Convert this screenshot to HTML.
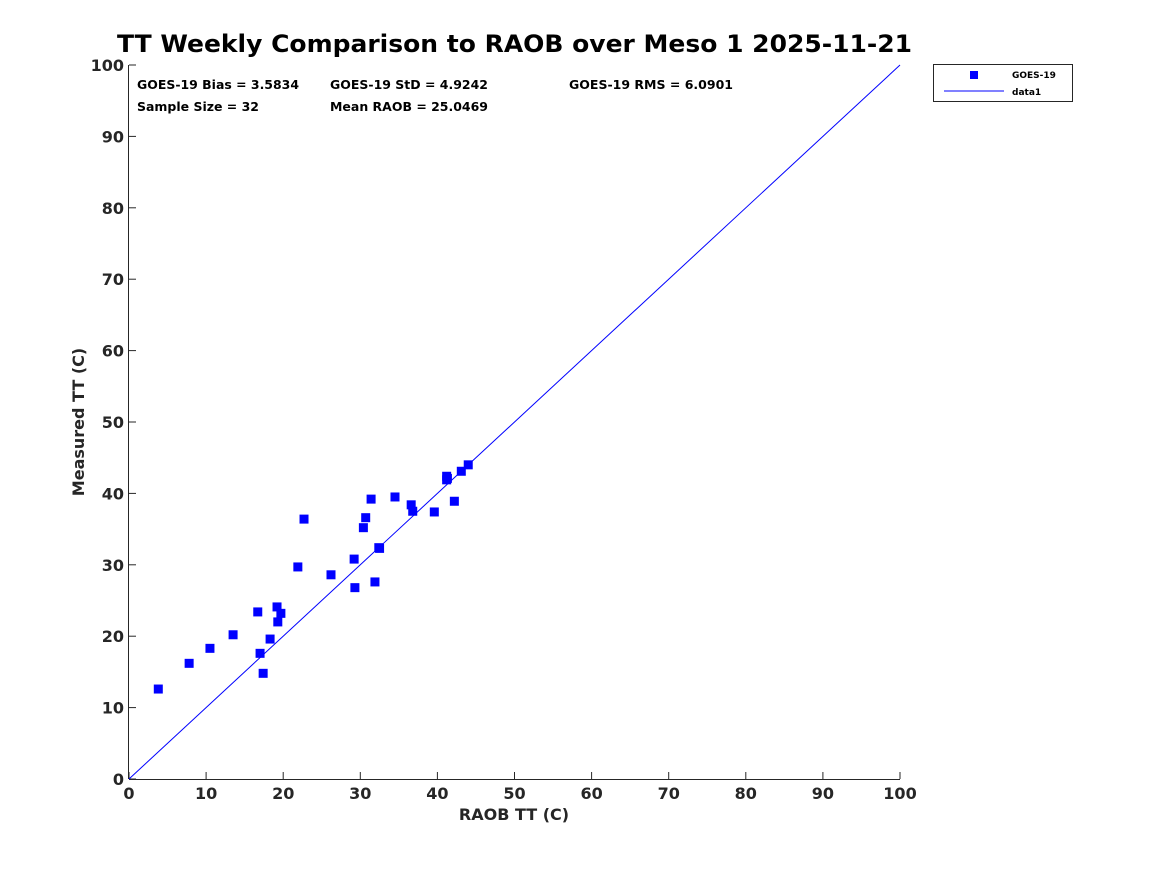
<!DOCTYPE html>
<html><head><meta charset="utf-8"><style>
body{margin:0;background:#fff;}
svg text{font-family:"DejaVu Sans","Liberation Sans",sans-serif;font-weight:bold;fill:#262626;}
</style></head><body>
<svg id="chart" width="1167" height="875" xmlns="http://www.w3.org/2000/svg">
<rect width="1167" height="875" fill="#fff"/>
<text x="117" y="52" textLength="795" lengthAdjust="spacingAndGlyphs" font-size="24" style="fill:#000">TT Weekly Comparison to RAOB over Meso 1 2025-11-21</text>
<g id="axes"></g>
<g id="marks"></g>
<g font-size="12">
<text x="137" y="89" textLength="162" lengthAdjust="spacingAndGlyphs" style="fill:#000">GOES-19 Bias = 3.5834</text>
<text x="330" y="89" textLength="158" lengthAdjust="spacingAndGlyphs" style="fill:#000">GOES-19 StD = 4.9242</text>
<text x="569" y="89" textLength="164" lengthAdjust="spacingAndGlyphs" style="fill:#000">GOES-19 RMS = 6.0901</text>
<text x="137" y="111" textLength="122" lengthAdjust="spacingAndGlyphs" style="fill:#000">Sample Size = 32</text>
<text x="330" y="111" textLength="158" lengthAdjust="spacingAndGlyphs" style="fill:#000">Mean RAOB = 25.0469</text>
</g>
<g>
<rect x="933.5" y="64.5" width="139" height="37" fill="#fff" stroke="#262626" stroke-width="1"/>
<rect x="970" y="71" width="8" height="8" fill="#0000ff"/>
<text x="1012" y="78" font-size="9" style="fill:#000">GOES-19</text>
<line x1="944" y1="91" x2="1004" y2="91" stroke="#0000ff" stroke-width="1"/>
<text x="1012" y="95" font-size="9" style="fill:#000">data1</text>
</g>
<text x="514" y="820" text-anchor="middle" font-size="16">RAOB TT (C)</text>
<text transform="translate(84,422) rotate(-90)" text-anchor="middle" font-size="16">Measured TT (C)</text>
</svg>
<script>
const raobValues=[3.8,7.8,10.5,13.5,16.7,17.0,17.4,18.3,19.2,19.3,19.7,21.9,22.7,26.2,29.2,29.3,30.4,30.7,31.4,31.9,32.4,32.5,34.5,36.6,36.8,39.6,41.2,41.2,41.3,42.2,43.1,44.0];
const measuredValues=[12.6,16.2,18.3,20.2,23.4,17.6,14.8,19.6,24.1,22.0,23.2,29.7,36.4,28.6,30.8,26.8,35.2,36.6,39.2,27.6,32.4,32.3,39.5,38.4,37.5,37.4,42.4,41.9,42.1,38.9,43.1,44.0];
const xTicks=[0,10,20,30,40,50,60,70,80,90,100];
const yTicks=[0,10,20,30,40,50,60,70,80,90,100];
const NS="http://www.w3.org/2000/svg";
const L=129,R=900,T=65,B=779;
const xs=v=>L+(v-0)/(100-0)*(R-L);
const ys=v=>B-(v-0)/(100-0)*(B-T);
function mk(tag,attrs,parent){const e=document.createElementNS(NS,tag);for(const k in attrs)e.setAttribute(k,attrs[k]);parent.appendChild(e);return e;}
const ax=document.getElementById('axes');
const xa=mk('line',{x1:L,y1:B+0.5,x2:R,y2:B+0.5,stroke:'#262626'},ax);


const ya=mk('line',{x1:L-0.5,y1:T,x2:L-0.5,y2:B,stroke:'#262626'},ax);


xTicks.forEach(t=>{
 const x=xs(t);
 mk('line',{x1:x,y1:B,x2:x,y2:B-7,stroke:'#262626'},ax);
 const tx=mk('text',{x:x,y:B+20,'text-anchor':'middle','font-size':16},ax);
 tx.textContent=t;
 
 
});
yTicks.forEach(t=>{
 const y=ys(t);
 mk('line',{x1:L,y1:y,x2:L+7,y2:y,stroke:'#262626'},ax);
 const tx=mk('text',{x:L-5,y:y+6,'text-anchor':'end','font-size':16},ax);
 tx.textContent=t;
 
 
});
const mg=document.getElementById('marks');
const ln=mk('line',{x1:xs(0),y1:ys(0),x2:xs(100),y2:ys(100),stroke:'#0000ff','stroke-width':1},mg);


raobValues.forEach((v,i)=>{
 const p=mk('rect',{x:xs(v)-4.5,y:ys(measuredValues[i])-4.5,width:9,height:9,fill:'#0000ff'},mg);
 
 
});
</script>
</body></html>
